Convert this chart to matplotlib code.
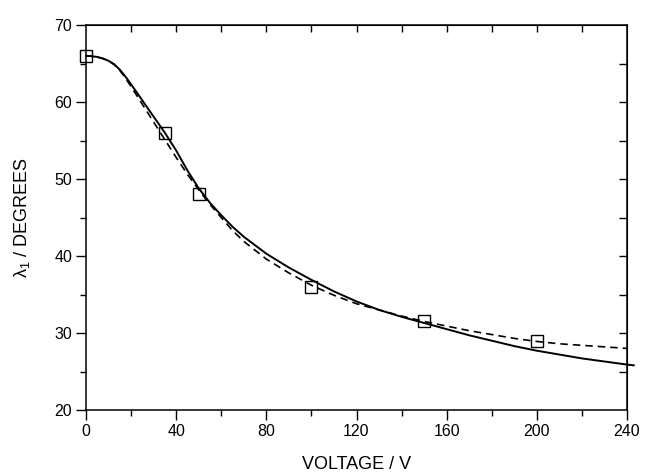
import matplotlib
matplotlib.use('Agg')
import matplotlib.pyplot as plt
import numpy as np

plt.rcParams['font.family'] = ['Liberation Sans', 'DejaVu Sans']
plt.rcParams['mathtext.fontset'] = 'custom'
plt.rcParams['mathtext.rm'] = 'Liberation Sans'
plt.rcParams['mathtext.it'] = 'Liberation Sans'

# measured points (squares)
volt_pts = [0, 35, 50, 100, 150, 200]
lam_pts = [66.0, 56.0, 48.0, 36.0, 31.5, 29.0]

# solid curve
volt_solid = [0, 2.5, 5, 7.5, 10, 12.5, 15, 17.5, 20, 25, 30, 35, 40, 45, 50, 55, 60, 65, 70,
              80, 90, 100, 110, 120, 130, 140, 150, 160, 170, 180, 190, 200, 210, 220,
              230, 240, 243]
lam_solid = [66.0, 65.95, 65.85, 65.65, 65.35, 64.9, 64.2, 63.3, 62.3, 60.2, 58.1, 56.0,
             53.7, 51.1, 48.8, 46.9, 45.3, 43.8, 42.5, 40.3, 38.5, 36.9, 35.4, 34.1, 33.0,
             32.1, 31.3, 30.5, 29.7, 29.0, 28.3, 27.7, 27.2, 26.7, 26.3, 25.9, 25.8]

# dashed curve
volt_dash = [0, 2.5, 5, 7.5, 10, 12.5, 15, 17.5, 20, 25, 30, 35, 40, 45, 50, 55, 60, 65, 70,
             80, 90, 100, 110, 120, 130, 140, 150, 160, 170, 180, 190, 200, 210, 220,
             230, 240]
lam_dash = [66.0, 65.95, 65.85, 65.65, 65.35, 64.85, 64.1, 63.1, 62.0, 59.7, 57.4, 55.1,
            52.8, 50.6, 48.6, 46.7, 45.0, 43.3, 41.9, 39.6, 37.8, 36.2, 34.9, 33.8, 33.0,
            32.2, 31.5, 30.9, 30.3, 29.8, 29.3, 28.9, 28.6, 28.4, 28.2, 28.0]

fig = plt.figure(figsize=(6.45, 4.75), dpi=100)
ax = fig.add_axes([86/645, 1-410/475, (627-86)/645, (410-25)/475])

ax.plot(volt_solid, lam_solid, color='k', lw=1.4, clip_on=False)
ax.plot(volt_dash, lam_dash, color='k', lw=1.2, dashes=(4.5, 3))
ax.plot(volt_pts, lam_pts, ls='none', marker='s', ms=8.5, mfc='none', mec='k', mew=1.0, clip_on=False)

ax.set_xlim(0, 240)
ax.set_ylim(20, 70)
ax.set_xticks(np.arange(0, 241, 40))
ax.set_xticks(np.arange(20, 240, 40), minor=True)
ax.set_yticks(np.arange(20, 71, 10))
ax.set_yticks(np.arange(25, 70, 10), minor=True)
ax.tick_params(which='major', direction='out', length=7, width=1, labelsize=11.5, pad=3)
ax.tick_params(which='minor', direction='out', length=4, width=1)
for s in ax.spines.values():
    s.set_linewidth(1.1)

top = ax.secondary_xaxis('top')
top.set_xticks(np.arange(20, 240, 20))
top.tick_params(direction='in', length=5, width=1, labeltop=False)
right = ax.secondary_yaxis('right')
right.set_yticks(np.arange(25, 70, 5))
right.tick_params(direction='in', length=6, width=1, labelright=False)

ax.set_xlabel('VOLTAGE / V', fontsize=13, labelpad=12)
ax.set_ylabel(r'$\lambda_1$ / DEGREES', fontsize=13, labelpad=16)

fig.savefig('out.png', dpi=100)
